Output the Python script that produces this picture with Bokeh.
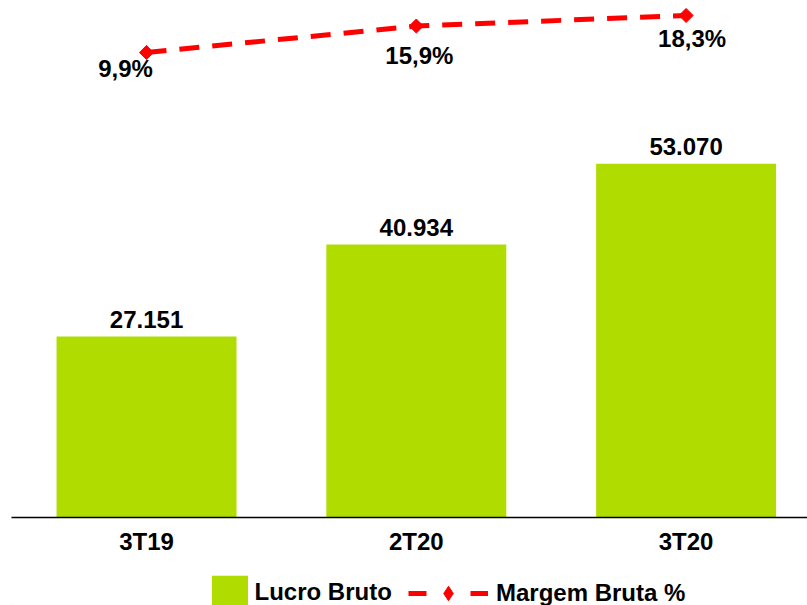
import math
from bokeh.plotting import figure
from bokeh.layouts import column
from bokeh.models import Range1d, FixedTicker, ColumnDataSource, Legend, LegendItem
from bokeh.embed import file_html
from bokeh.resources import INLINE
from bokeh.core.properties import value

# ---- data ----
categories = ["3T19", "2T20", "3T20"]
lucro_bruto = [27151, 40934, 53070]
lucro_labels = ["27.151", "40.934", "53.070"]
margem_bruta = [9.9, 15.9, 18.3]
margem_labels = ["9,9%", "15,9%", "18,3%"]

# ---- label placement (style, px) ----
margem_dx = [-21, 3, 6]
margem_dy = [16, 29, 23]

GREEN = "#B0DC00"
RED = "#FF0000"
FONT = value("Liberation Sans")

xpos = list(range(len(categories)))

p = figure(width=807, height=565, output_backend="svg", toolbar_location=None,
           x_range=Range1d(-0.5005, 2.450), y_range=Range1d(0, 77550),
           y_axis_location=None, min_border_left=11, min_border_right=0,
           min_border_top=0, min_border_bottom=48)
p.outline_line_color = None
p.xgrid.visible = False
p.ygrid.visible = False
p.background_fill_color = "white"
p.border_fill_color = "white"
p.extra_y_ranges = {"pct": Range1d(-95.67, 21.70)}

ax = p.xaxis[0]
ax.ticker = FixedTicker(ticks=xpos)
ax.major_label_overrides = {i: c for i, c in zip(xpos, categories)}
ax.axis_line_color = "black"
ax.axis_line_width = 1.5
ax.major_tick_line_color = None
ax.minor_tick_line_color = None
ax.major_label_text_font = "Liberation Sans"
ax.major_label_text_font_style = "bold"
ax.major_label_text_font_size = "24px"
ax.major_label_text_color = "black"
ax.major_label_standoff = 4

bar_src = ColumnDataSource(dict(x=xpos, top=lucro_bruto, label=lucro_labels))
bars = p.vbar(x="x", top="top", width=0.667, source=bar_src,
              fill_color=GREEN, line_color=None)
p.text(x="x", y="top", text="label", source=bar_src, text_align="center",
       text_baseline="alphabetic", y_offset=-17, text_font=FONT,
       text_font_style="bold", text_font_size="24px", text_color="black")

pct_src = ColumnDataSource(dict(x=xpos, y=margem_bruta, label=margem_labels,
                                dx=margem_dx, dy=margem_dy))
p.line(x="x", y="y", source=pct_src, y_range_name="pct", line_color=RED,
       line_width=5, line_dash="20 13")
pts = p.scatter(x="x", y="y", source=pct_src, y_range_name="pct", marker="square",
                angle=math.pi / 4, size=10, fill_color=RED, line_color=RED)
p.text(x="x", y="y", text="label", source=pct_src, y_range_name="pct",
       x_offset="dx", y_offset="dy", text_align="center", text_baseline="alphabetic",
       text_font=FONT, text_font_style="bold", text_font_size="24px",
       text_color="black")

# ---- legend strip (proxy glyphs kept outside the visible range) ----
lf = figure(width=807, height=40, output_backend="svg", toolbar_location=None,
            x_range=Range1d(0, 807), y_range=Range1d(0, 40),
            x_axis_location=None, y_axis_location=None,
            min_border_left=0, min_border_right=0, min_border_top=0, min_border_bottom=0)
lf.outline_line_color = None
lf.xgrid.visible = False
lf.ygrid.visible = False
lf.background_fill_color = "white"
lf.border_fill_color = "white"

off = [-1000, -999]
leg_bar = lf.vbar(x=off[:1], top=[1], width=1, fill_color=GREEN, line_color=None)
leg_line = lf.line(x=off, y=[0, 0], line_color=RED, line_width=5, line_dash="18 44")
leg_mark = lf.scatter(x=off[:1], y=[0], marker="diamond", size=10,
                      fill_color=RED, line_color=RED)

common = dict(padding=0, margin=0, spacing=0, border_line_color=None,
              background_fill_alpha=0, label_text_font="Liberation Sans",
              label_text_font_style="bold", label_text_font_size="24px",
              label_text_color="black")
leg1 = Legend(items=[LegendItem(label="Lucro Bruto", renderers=[leg_bar])],
              location=(195.5, -7.8), glyph_width=45, glyph_height=42,
              label_standoff=3, **common)
leg2 = Legend(items=[LegendItem(label="Margem Bruta %", renderers=[leg_line, leg_mark])],
              location=(397, -5.5), glyph_width=80, glyph_height=36,
              label_standoff=8, **common)
lf.add_layout(leg1, "center")
lf.add_layout(leg2, "center")

layout = column(p, lf, spacing=0)
open("out.html", "w").write(file_html(layout, INLINE))
